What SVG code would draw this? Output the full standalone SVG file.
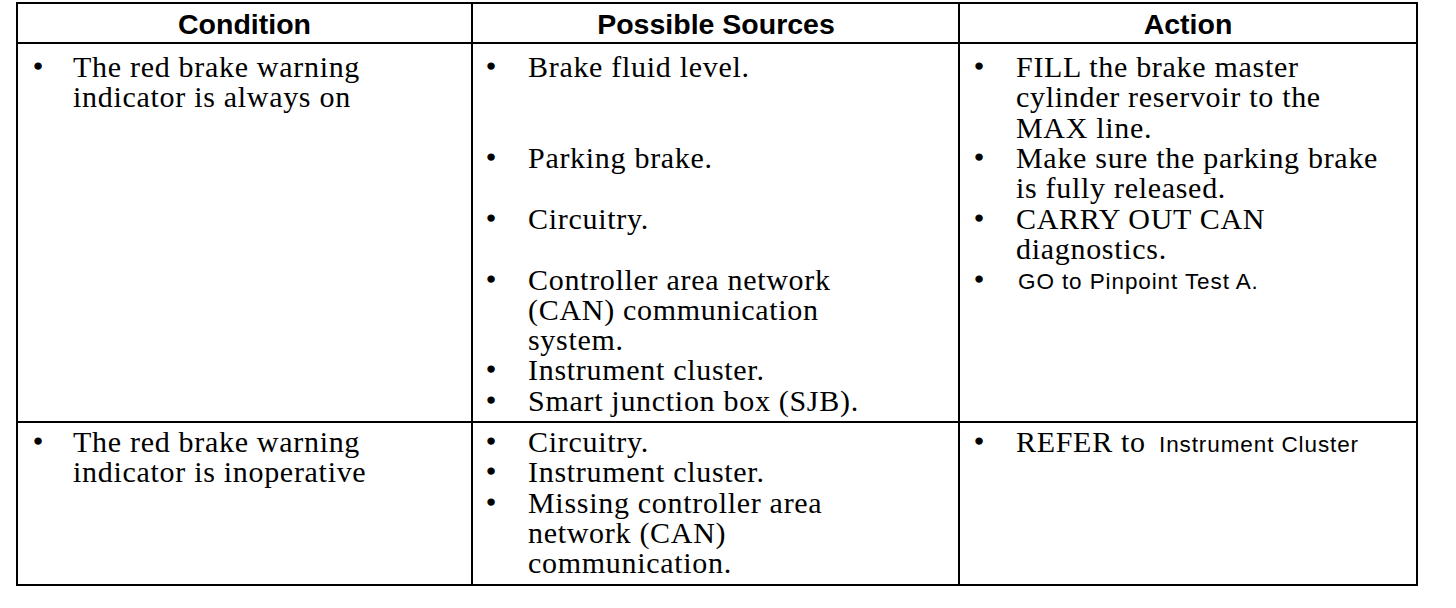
<svg xmlns="http://www.w3.org/2000/svg" width="1456" height="608" viewBox="0 0 1456 608">
<style>
.h{font-family:"Liberation Sans",Arial,sans-serif;font-weight:bold;font-size:28.5px;fill:#000;text-anchor:middle}
.t{font-family:"Liberation Serif","Times New Roman",serif;font-size:30px;fill:#000;letter-spacing:0.7px}
.s{font-family:"Liberation Sans",Arial,sans-serif;font-size:22.5px;fill:#000;letter-spacing:0.9px}
.b{font-family:"Liberation Serif","Times New Roman",serif;font-size:26px;fill:#000;stroke:#000;stroke-width:1.2;text-anchor:middle}
.g{stroke:#000;stroke-width:2;fill:none}
</style>
<rect x="0" y="0" width="1456" height="608" fill="#fff"/>
<g id="grid">
<rect class="g" x="17" y="3" width="1400" height="582"/>
<line class="g" x1="17" y1="43" x2="1417" y2="43"/>
<line class="g" x1="17" y1="422" x2="1417" y2="422"/>
<line class="g" x1="472" y1="3" x2="472" y2="585"/>
<line class="g" x1="959" y1="3" x2="959" y2="585"/>
</g>
<g id="header-condition"><text class="h" x="244.5" y="34">Condition</text></g>
<g id="header-sources"><text class="h" x="716" y="34">Possible Sources</text></g>
<g id="header-action"><text class="h" x="1188" y="34">Action</text></g>
<g id="r1-condition">
<text class="b" x="38" y="75">•</text>
<text class="t" x="73" y="77">The red brake warning</text>
<text class="t" x="73" y="107">indicator is always on</text>
</g>
<g id="r1-sources">
<text class="b" x="491" y="75">•</text>
<text class="t" x="528" y="77">Brake fluid level.</text>
<text class="b" x="491" y="166">•</text>
<text class="t" x="528" y="168">Parking brake.</text>
<text class="b" x="491" y="227">•</text>
<text class="t" x="528" y="229">Circuitry.</text>
<text class="b" x="491" y="288">•</text>
<text class="t" x="528" y="290">Controller area network</text>
<text class="t" x="528" y="320">(CAN) communication</text>
<text class="t" x="528" y="350">system.</text>
<text class="b" x="491" y="378">•</text>
<text class="t" x="528" y="380">Instrument cluster.</text>
<text class="b" x="491" y="409">•</text>
<text class="t" x="528" y="411">Smart junction box (SJB).</text>
</g>
<g id="r1-action">
<text class="b" x="979" y="75">•</text>
<text class="t" x="1016" y="77">FILL the brake master</text>
<text class="t" x="1016" y="107">cylinder reservoir to the</text>
<text class="t" x="1016" y="138">MAX line.</text>
<text class="b" x="979" y="166">•</text>
<text class="t" x="1016" y="168">Make sure the parking brake</text>
<text class="t" x="1016" y="198">is fully released.</text>
<text class="b" x="979" y="227">•</text>
<text class="t" x="1016" y="229">CARRY OUT CAN</text>
<text class="t" x="1016" y="259">diagnostics.</text>
<text class="b" x="979" y="288">•</text>
<text class="s" x="1018" y="289">GO to Pinpoint Test A.</text>
</g>
<g id="r2-condition">
<text class="b" x="38" y="450">•</text>
<text class="t" x="73" y="452">The red brake warning</text>
<text class="t" x="73" y="482">indicator is inoperative</text>
</g>
<g id="r2-sources">
<text class="b" x="491" y="450">•</text>
<text class="t" x="528" y="452">Circuitry.</text>
<text class="b" x="491" y="480">•</text>
<text class="t" x="528" y="482">Instrument cluster.</text>
<text class="b" x="491" y="511">•</text>
<text class="t" x="528" y="513">Missing controller area</text>
<text class="t" x="528" y="543">network (CAN)</text>
<text class="t" x="528" y="573">communication.</text>
</g>
<g id="r2-action">
<text class="b" x="979" y="450">•</text>
<text class="t" x="1016" y="452">REFER to</text>
<text class="s" x="1159" y="452">Instrument Cluster</text>
</g>
</svg>
